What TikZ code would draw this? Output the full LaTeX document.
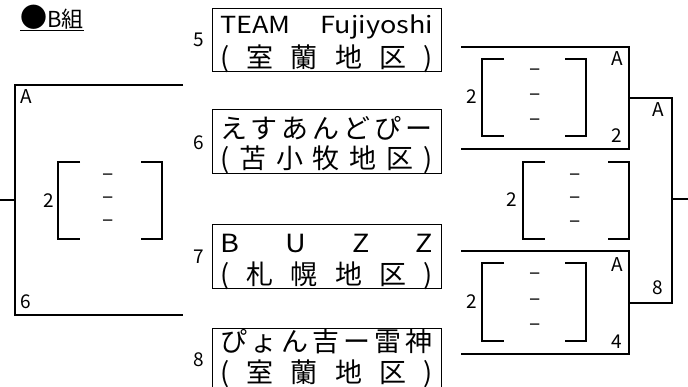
\documentclass[tikz,border=0pt]{standalone}
\usepackage{fontspec}
\setmainfont{Noto Sans CJK JP}
\newfontfamily\latinwide[FakeStretch=1.15]{Noto Sans CJK JP}
\begin{document}
\begin{tikzpicture}[x=1pt,y=-1pt,
  br/.style={line width=2pt},
  tb/.style={draw, line width=1pt, minimum width=229pt, inner sep=0pt},
  lab/.style={font=\fontsize{19}{19}\selectfont, inner sep=0pt},
  dsh/.style={font=\fontsize{21}{21}\selectfont, inner sep=0pt},
  tt/.style={font=\fontsize{27}{27}\selectfont, inner sep=0pt, anchor=base},
  tl/.style={font=\latinwide\fontsize{23.5}{23.5}\selectfont, inner sep=0pt, anchor=base}]
\useasboundingbox (0,0) rectangle (688,387);
% title
\node[font=\fontsize{22}{22}\selectfont, inner sep=0pt, anchor=base west] (title) at (20,28) {{\fontsize{27}{27}\selectfont ●}B組};
\draw[line width=1pt] (title.west |- 0,30.5) coordinate (u1) -- (title.east |- 0,30.5) coordinate (u2);
% team boxes
\node[tb, minimum height=63pt] (t5) at (326.5,40.5) {};
\node[tb, minimum height=64pt] (t6) at (326.5,142) {};
\node[tb, minimum height=64pt] (t7) at (326.5,257) {};
\node[tb, minimum height=64pt] (t8) at (326.5,360) {};
\node[lab] (n5) at (199,40) {5};
\node[lab] (n6) at (199,143) {6};
\node[lab] (n7) at (199,257) {7};
\node[lab] (n8) at (199,360) {8};
\node[tl] (a5) at (326.5,34) {\hbox to 213pt{TEAM\hfill Fujiyoshi}};
\node[tt] (b5) at (326.5,68) {\hbox to 213pt{(\hfill 室\hfill 蘭\hfill 地\hfill 区\hfill )}};
\node[tt] (a6) at (326.5,139) {\hbox to 213pt{え\hfill す\hfill あ\hfill ん\hfill ど\hfill ぴ\hfill ー}};
\node[tt] (b6) at (326.5,169) {\hbox to 213pt{(\hfill 苫\hfill 小\hfill 牧\hfill 地\hfill 区\hfill )}};
\node[tl, font=\latinwide\fontsize{25}{25}\selectfont] (a7) at (326.5,253) {\hbox to 213pt{B\hfill U\hfill Z\hfill Z}};
\node[tt] (b7) at (326.5,285) {\hbox to 213pt{(\hfill 札\hfill 幌\hfill 地\hfill 区\hfill )}};
\node[tt] (a8) at (326.5,352) {\hbox to 213pt{ぴ\hfill ょ\hfill ん\hfill 吉\hfill ー\hfill 雷\hfill 神}};
\node[tt] (b8) at (326.5,382) {\hbox to 213pt{(\hfill 室\hfill 蘭\hfill 地\hfill 区\hfill )}};
% left bracket
\coordinate (L1) at (183,85);
\coordinate (L2) at (15,85);
\coordinate (L3) at (15,315);
\coordinate (L4) at (183,315);
\coordinate (Ls) at (0,200);
\draw[br] (L1) -- (L2) -- (L3) -- (L4);
\draw[br] (Ls) -- (L2 |- Ls);
\node[lab] (lA) at (26.5,97) {A};
\node[lab] (l6) at (26,302) {6};
\node[lab] (l2) at (49,201) {2};
% inner score brackets
\newcommand{\scorebr}[4]{%
  \draw[br] (#1+22,#3) -- (#1,#3) -- (#1,#4) -- (#1+22,#4);
  \draw[br] (#2-21,#3) -- (#2,#3) -- (#2,#4) -- (#2-21,#4);}
\scorebr{58}{162}{162}{239}
\scorebr{482}{586}{59}{136}
\scorebr{523}{629}{162}{239}
\scorebr{482}{586}{263}{341}
\foreach \y in {177,200,223} \node[dsh] at (108,\y) {–};
\foreach \y in {72,97,122} \node[dsh] at (535,\y) {–};
\foreach \y in {177,200,224} \node[dsh] at (575,\y) {–};
\foreach \y in {276,302,327} \node[dsh] at (535,\y) {–};
% right side
\coordinate (R1) at (461,47);
\coordinate (R2) at (629,47);
\coordinate (R3) at (629,149);
\coordinate (R4) at (461,149);
\coordinate (S1) at (461,251);
\coordinate (S2) at (629,251);
\coordinate (S3) at (629,354);
\coordinate (S4) at (461,354);
\draw[br] (R1) -- (R2) -- (R3) -- (R4);
\draw[br] (S1) -- (S2) -- (S3) -- (S4);
\coordinate (F1) at (629,98);
\coordinate (F2) at (672,98);
\coordinate (F3) at (672,303);
\coordinate (F4) at (629,303);
\coordinate (Fs) at (688,199);
\draw[br] (F1) -- (F2) -- (F3) -- (F4);
\draw[br] (F2 |- Fs) -- (Fs);
\node[lab] at (472,97) {2};
\node[lab] at (617,59) {A};
\node[lab] at (617,136) {2};
\node[lab] at (658,110) {A};
\node[lab] at (658,288) {8};
\node[lab] at (512,200) {2};
\node[lab] at (472,302) {2};
\node[lab] at (617,265) {A};
\node[lab] at (617,342) {4};
\end{tikzpicture}
\end{document}
